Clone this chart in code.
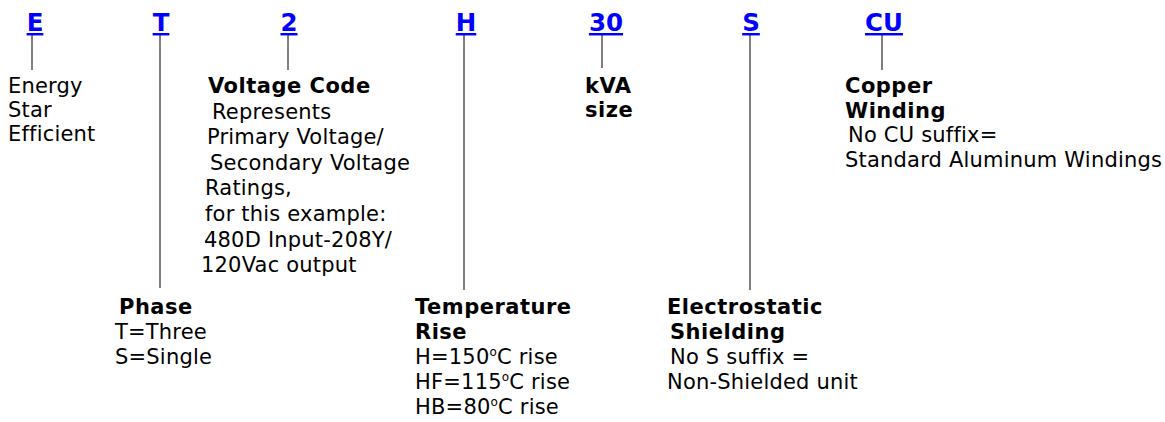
import React from "react";

// part-number code letters and what each one means
const codes = ["E", "T", "2", "H", "30", "S", "CU"];

const energyLines = ["Energy", "Star", "Efficient"];
const phaseTitle = ["Phase"];
const phaseLines = ["T=Three", "S=Single"];
const voltageTitle = ["Voltage Code"];
const voltageLines = [
  "Represents",
  "Primary Voltage/",
  "Secondary Voltage",
  "Ratings,",
  "for this example:",
  "480D Input-208Y/",
  "120Vac output",
];
const tempTitle = ["Temperature", "Rise"];
const tempLines = [
  ["H=150", "C rise"],
  ["HF=115", "C rise"],
  ["HB=80", "C rise"],
];
const kvaTitle = ["kVA", "size"];
const shieldTitle = ["Electrostatic", "Shielding"];
const shieldLines = ["No S suffix =", "Non-Shielded unit"];
const copperTitle = ["Copper", "Winding"];
const copperLines = ["No CU suffix=", "Standard Aluminum Windings"];

// layout: code header x, leader line x and leader bottom
const codeX = [35, 161, 289, 466, 606, 751, 884];
const leaderX = [32, 160, 288, 464, 602, 750, 882];
const leaderEnd = [70, 288, 70, 290, 68, 290, 70];

const FONT = "DejaVu Sans, Verdana, sans-serif";
const SIZE = 21;

type Line = { text: React.ReactNode; bold?: boolean; dx?: number };

function Block({
  x,
  y,
  lines,
  pitch = 25,
}: {
  x: number;
  y: number;
  lines: Line[];
  pitch?: number;
}) {
  return (
    <g>
      {lines.map((l, i) => (
        <text
          key={i}
          x={x + (l.dx || 0)}
          y={y + i * pitch}
          fontFamily={FONT}
          fontSize={SIZE}
          fontWeight={l.bold ? "bold" : "normal"}
          letterSpacing={l.bold ? 0.5 : 0.2}
          fill="#000"
        >
          {l.text}
        </text>
      ))}
    </g>
  );
}

const deg = (a: string, b: string) => (
  <>
    {a}
    <tspan fontSize={12} dy={-8}>
      o
    </tspan>
    <tspan dy={8}>{b}</tspan>
  </>
);

export default function App() {
  return (
    <svg
      width={1165}
      height={422}
      style={{ position: "absolute", left: 0, top: 0, background: "#fff" }}
    >
      {codes.map((c, i) => (
        <g key={c}>
          <line
            x1={leaderX[i]}
            x2={leaderX[i]}
            y1={35}
            y2={leaderEnd[i]}
            stroke="#808080"
            strokeWidth={2}
          />
          <text
            x={codeX[i]}
            y={31}
            textAnchor="middle"
            fontFamily={FONT}
            fontWeight="bold"
            fontSize={24.5}
            fill="#0000ff"
            textDecoration="underline"
          >
            {c}
          </text>
        </g>
      ))}

      <Block x={8} y={93} pitch={24} lines={energyLines.map((t) => ({ text: t }))} />

      <Block
        x={207}
        y={93}
        pitch={25.6}
        lines={[
          ...voltageTitle.map((t) => ({ text: t, bold: true, dx: 1 })),
          ...voltageLines.map((t, i) => ({
            text: t,
            dx: [5, 0, 3, -2, -2, -3, -6][i],
          })),
        ]}
      />

      <Block
        x={115}
        y={314}
        lines={[
          ...phaseTitle.map((t) => ({ text: t, bold: true, dx: 4 })),
          ...phaseLines.map((t) => ({ text: t })),
        ]}
      />

      <Block
        x={415}
        y={314}
        lines={[
          ...tempTitle.map((t) => ({ text: t, bold: true })),
          ...tempLines.map(([a, b]) => ({ text: deg(a, b) })),
        ]}
      />

      <Block x={585} y={93} pitch={24} lines={kvaTitle.map((t) => ({ text: t, bold: true }))} />

      <Block
        x={667}
        y={314}
        lines={[
          ...shieldTitle.map((t, i) => ({ text: t, bold: true, dx: i ? 3 : 0 })),
          ...shieldLines.map((t, i) => ({ text: t, dx: i ? 0 : 3 })),
        ]}
      />

      <Block
        x={845}
        y={93}
        pitch={24.5}
        lines={[
          ...copperTitle.map((t) => ({ text: t, bold: true })),
          ...copperLines.map((t, i) => ({ text: t, dx: i ? 0 : 3 })),
        ]}
      />
    </svg>
  );
}
